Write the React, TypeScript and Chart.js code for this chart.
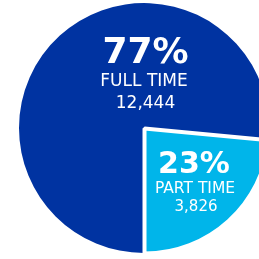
import React, { useEffect, useRef } from "react";
import { Chart, registerables } from "chart.js";

Chart.register(...registerables);

const categories = ["FULL TIME", "PART TIME"];
const counts = [12444, 3826];
const percentLabels = ["77%", "23%"];
const countLabels = ["12,444", "3,826"];
const colors = ["#0033a1", "#00b5ea"];

const labelPlugin = {
  id: "sliceLabels",
  afterDatasetsDraw(chart: any) {
    const { ctx } = chart;
    const meta = chart.getDatasetMeta(0);
    const arc0 = meta.data[0];
    const arc1 = meta.data[1];
    const cx = arc0.x;
    const cy = arc0.y;
    ctx.save();
    ctx.fillStyle = "#ffffff";
    ctx.textAlign = "center";
    ctx.textBaseline = "alphabetic";
    // Full time (large slice)
    ctx.font = "bold 36px 'DejaVu Sans'";
    ctx.fillText(percentLabels[0], cx + 1.5, cy - 65.5);
    ctx.font = "17px 'DejaVu Sans'";
    ctx.fillText(categories[0], cx, cy - 42.5);
    ctx.fillText(countLabels[0], cx + 1.5, cy - 20);
    // Part time (small slice)
    const x1 = arc1.x;
    const y1 = arc1.y;
    ctx.font = "bold 30px 'DejaVu Sans'";
    ctx.fillText(percentLabels[1], x1 + 50, y1 + 45);
    ctx.font = "15.5px 'DejaVu Sans'";
    ctx.fillText(categories[1], x1 + 51, y1 + 64.5);
    ctx.font = "15px 'DejaVu Sans'";
    ctx.fillText(countLabels[1], x1 + 52, y1 + 83);
    ctx.restore();
  },
};

export default function App() {
  const ref = useRef<HTMLCanvasElement>(null);
  useEffect(() => {
    if (!ref.current) return;
    const chart = new Chart(ref.current, {
      type: "pie",
      data: {
        labels: categories,
        datasets: [
          {
            data: counts,
            backgroundColor: colors,
            borderColor: "#ffffff",
            borderWidth: [0, 4],
            offset: [0, 3],
            radius: 125,
          } as any,
        ],
      },
      options: {
        responsive: false,
        animation: false,
        rotation: 180,
        layout: { padding: 0 },
        plugins: {
          legend: { display: false },
          tooltip: { enabled: false },
        },
      },
      plugins: [labelPlugin],
    });
    return () => chart.destroy();
  }, []);
  return (
    <div
      style={{
        position: "fixed",
        left: 0,
        top: 0,
        width: 259,
        height: 259,
        overflow: "hidden",
        background: "#ffffff",
      }}
    >
      <canvas
        ref={ref}
        width={288}
        height={256}
        style={{ position: "absolute", left: 0, top: 0, width: 288, height: 256 }}
      />
    </div>
  );
}
